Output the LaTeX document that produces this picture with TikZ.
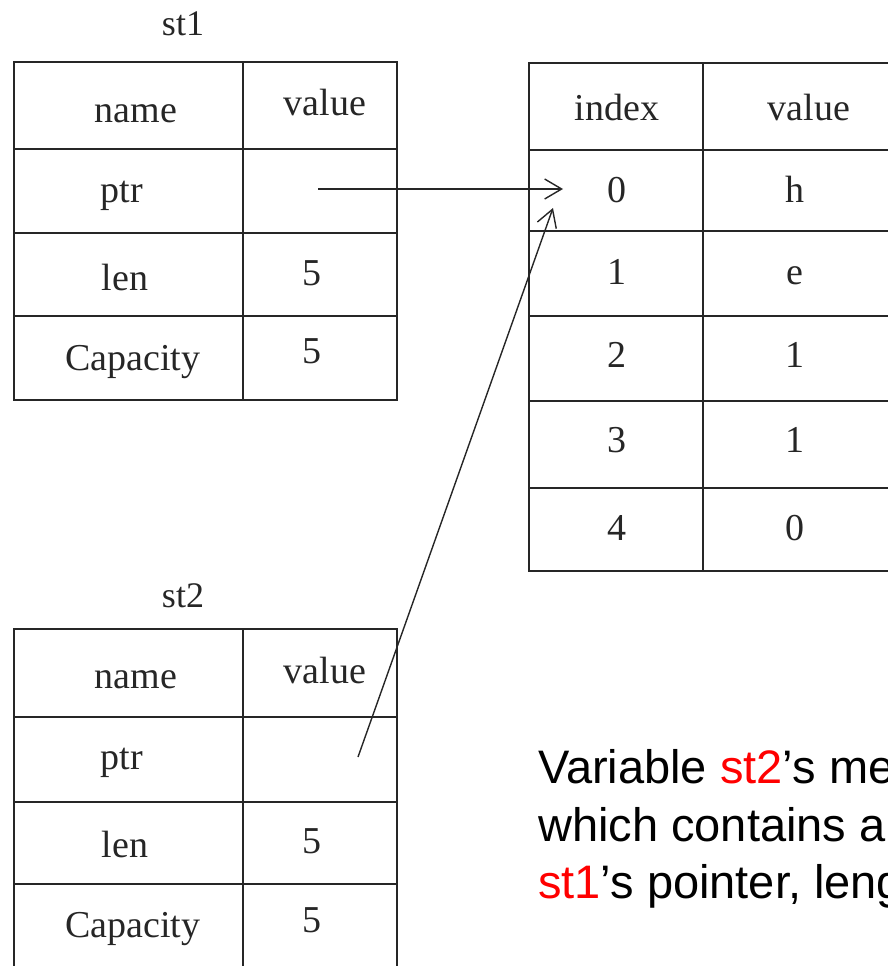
\documentclass[tikz,border=0pt]{standalone}
\usepackage{fontspec}
\setmainfont{Liberation Serif}
\newfontfamily\arialf{Liberation Sans}
\usetikzlibrary{arrows.meta}
\begin{document}
\begin{tikzpicture}[x=1pt,y=-1pt,
  cell/.style={font=\fontsize{38}{40}\selectfont, anchor=base, inner sep=0pt, text=black!85},
  tlabel/.style={font=\fontsize{36}{40}\selectfont, anchor=base, inner sep=0pt, text=black!85},
  innerline/.style={line width=1.8pt, draw=black!85},
  outerline/.style={line width=2.8pt, draw=black!85},
  ptrarrow/.style={line width=1.4pt, draw=black!85, -{Straight Barb[length=17pt,width=20pt]}},
  note/.style={font=\arialf\fontsize{47}{57}\selectfont, anchor=base west, inner sep=0pt}]
\useasboundingbox (0,0) rectangle (888,966);
\clip (0,0) rectangle (888,966);

% ---------- st1 ----------
\node[tlabel] (st1label) at (183,36) {st1};
\draw[innerline] (243,62) -- (243,400);
\foreach \yy in {149,233,316} \draw[innerline] (14,\yy) -- (397,\yy);
\draw[outerline] (14,62) rectangle (397,400);
\node[cell] (s1name) at (136,122) {name};
\node[cell] (s1value) at (325,115) {value};
\node[cell] (s1ptr) at (122,202) {ptr};
\node[cell] (s1len) at (125,290) {len};
\node[cell] (s1lenv) at (312,285) {5};
\node[cell] (s1cap) at (133,370) {Capacity};
\node[cell] (s1capv) at (312,363) {5};
\coordinate (s1ptrv) at (318,189);

% ---------- heap ----------
\draw[innerline] (703,63) -- (703,571);
\foreach \yy in {150,231,316,401,488} \draw[innerline] (529,\yy) -- (910,\yy);
\draw[outerline] (529,63) rectangle (910,571);
\node[cell] (hindex) at (617,120) {index};
\node[cell] (hvalue) at (809,120) {value};
\node[cell] (h0) at (617,202) {0};
\node[cell] (v0) at (795,202) {h};
\node[cell] (h1) at (617,284) {1};
\node[cell] (v1) at (795,284) {e};
\node[cell] (h2) at (617,367) {2};
\node[cell] (v2) at (795,367) {1};
\node[cell] (h3) at (617,452) {3};
\node[cell] (v3) at (795,452) {1};
\node[cell] (h4) at (617,540) {4};
\node[cell] (v4) at (795,540) {0};
\coordinate (tipA) at (563,189);
\coordinate (tipB) at (553,208);

% ---------- st2 ----------
\node[tlabel] (st2label) at (183,607) {st2};
\draw[innerline] (243,629) -- (243,968);
\foreach \yy in {717,802,884} \draw[innerline] (14,\yy) -- (397,\yy);
\draw[outerline] (14,629) rectangle (397,968);
\node[cell] (s2name) at (136,688) {name};
\node[cell] (s2value) at (325,683) {value};
\node[cell] (s2ptr) at (122,769) {ptr};
\node[cell] (s2len) at (125,857) {len};
\node[cell] (s2lenv) at (312,853) {5};
\node[cell] (s2cap) at (133,937) {Capacity};
\node[cell] (s2capv) at (312,932) {5};
\coordinate (s2ptrv) at (358,757);

% ---------- pointers ----------
\draw[ptrarrow] (s1ptrv) -- (tipA);
\draw[ptrarrow] (s2ptrv) -- (tipB);

% ---------- note ----------
\node[note] (note1) at (538,783) {Variable \textcolor{red}{st2}’s me};
\node[note] (note2) at (538,841) {which contains a};
\node[note] (note3) at (538,898) {\textcolor{red}{st1}’s pointer, leng};
\end{tikzpicture}
\end{document}
